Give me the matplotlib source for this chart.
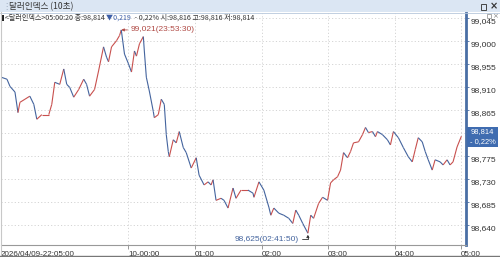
import matplotlib
matplotlib.use("Agg")
import matplotlib.pyplot as plt
import numpy as np
from matplotlib.collections import LineCollection
from matplotlib.patches import Rectangle

# ---- data (minutes since 2026/04/09 22:05:00, price) ----
minutes = [0, 5.4, 8.1, 12.6, 15.3, 17.1, 21.6, 26.0, 29.6, 32.3, 36.8, 43.1, 45.8, 48.5,
           53.0, 56.6, 59.3, 62.0, 65.6, 70.1, 74.6, 77.2, 79.9, 84.4, 88.0, 92.5, 95.2,
           97.0, 99.7, 104.2, 106.9, 108.5, 111.4, 115.0, 117.7, 120.4, 122.2, 124.9,
           128.4, 129.3, 131.1, 133.8, 137.4, 138.3, 141.9, 144.6, 147.3, 149.1, 150.9,
           151.8, 155.4, 158.1, 160.8, 164.4, 167.1, 171.6, 176.1, 178.7, 183.2, 186.8,
           189.5, 191.3, 194.0, 198.5, 201.2, 204.8, 209.3, 212.0, 216.5, 222.8, 227.3,
           228.2, 232.7, 237.1, 241.6, 243.4, 246.1, 250.6, 255.1, 259.6, 263.2, 265.9,
           268.6, 272.2, 276.83, 279.4, 282.0, 286.5, 290.1, 294.6, 297.3, 300.0, 303.6,
           306.3, 309.0, 312.6, 315.3, 318.0, 322.5, 326.1, 328.8, 331.5, 335.1, 337.8,
           339.6, 344.1, 348.6, 351.3, 354.0, 358.5, 362.9, 367.4, 371.0, 373.7, 376.4,
           380.0, 382.7, 385.4, 389.0, 391.6, 396.1, 398.8, 402.4, 405.1, 407.8, 411.4,
           415.33]
prices = [98.929, 98.925, 98.911, 98.900, 98.860, 98.880, 98.886, 98.892, 98.876, 98.847,
          98.856, 98.856, 98.876, 98.919, 98.915, 98.945, 98.915, 98.909, 98.890, 98.905,
          98.925, 98.915, 98.892, 98.905, 98.941, 98.988, 98.968, 98.959, 98.988, 99.000,
          99.010, 99.021, 98.974, 98.955, 98.939, 98.980, 98.970, 98.994, 99.008, 98.980,
          98.929, 98.902, 98.862, 98.850, 98.856, 98.886, 98.876, 98.817, 98.784, 98.774,
          98.807, 98.801, 98.823, 98.792, 98.782, 98.752, 98.772, 98.738, 98.719, 98.725,
          98.719, 98.729, 98.689, 98.693, 98.689, 98.674, 98.713, 98.693, 98.709, 98.709,
          98.703, 98.695, 98.725, 98.709, 98.676, 98.660, 98.674, 98.664, 98.660, 98.654,
          98.644, 98.670, 98.660, 98.644, 98.625, 98.660, 98.654, 98.683, 98.695, 98.689,
          98.723, 98.729, 98.735, 98.748, 98.782, 98.772, 98.784, 98.801, 98.803, 98.817,
          98.831, 98.821, 98.823, 98.813, 98.823, 98.817, 98.807, 98.797, 98.823, 98.811,
          98.792, 98.774, 98.764, 98.788, 98.811, 98.803, 98.784, 98.768, 98.748, 98.768,
          98.764, 98.758, 98.768, 98.758, 98.764, 98.793, 98.814]

x_tick_pos = [0, 115, 175, 235, 295, 355, 415]
x_tick_labels = ["2026/04/09-22:05:00", "10-00:00", "01:00", "02:00", "03:00", "04:00", "05:00"]
y_ticks = [99.045, 99.000, 98.955, 98.910, 98.865, 98.820, 98.775, 98.730, 98.685, 98.640]
y_tick_labels = ["99,045", "99,000", "98,955", "98,910", "98,865", "98,820", "98,775",
                 "98,730", "98,685", "98,640"]

peak_label = "99,021(23:53:30)"
low_label = "98,625(02:41:50)"
info_prefix = "<달러인덱스>05:00:20 종:98,814 "
info_change = "▼0,219 "
info_rest = " - 0,22% 시:98,816 고:98,816 저:98,814"
title = "달러인덱스 (10초)"
last_price = "98,814"
last_pct = "- 0,22%"

W, H = 500, 257
fig = plt.figure(figsize=(W / 100, H / 100), dpi=100)
fig.patch.set_facecolor("white")

NUM_FONT = ["Liberation Sans Narrow", "Liberation Sans", "DejaVu Sans"]
KR_FONT = ["Noto Sans CJK KR", "DejaVu Sans"]

def fx(x):
    return x / W

def fy(y):
    return 1 - y / H

# axes: left 1px, right 466px, top 13px, bottom 245px
ax = fig.add_axes([fx(1), fy(245), fx(466) - fx(1), fy(13) - fy(245)])
ax.set_facecolor("white")

t = np.array(minutes)
p = np.array(prices)
segs = np.stack([np.column_stack([t[:-1], p[:-1]]), np.column_stack([t[1:], p[1:]])], axis=1)
cols = np.where(np.diff(p) >= 0, "#c8504e", "#44649e")
lc = LineCollection(segs, colors=cols, linewidths=0.8, zorder=3)
ax.add_collection(lc)

ax.set_xlim(1.8, 1.8 + 465 / 1.1133)
ax.set_ylim(98.602, 99.054)

# grid
for v in y_ticks:
    ax.axhline(v, color="#d4d4d4", lw=0.7, ls=(0, (1.2, 2.2)), zorder=1)
for xt in x_tick_pos[1:]:
    ax.axvline(xt, color="#d4d4d4", lw=0.7, ls=(0, (1.2, 2.2)), zorder=1)

ax.set_xticks(x_tick_pos)
ax.set_xticklabels(x_tick_labels, ha="left", fontsize=5.8, family=NUM_FONT, color="#333333")
ax.tick_params(axis="x", length=3, width=0.6, color="#888888", pad=1.5)

ax.yaxis.tick_right()
ax.set_yticks(y_ticks)
ylabels = ax.set_yticklabels(y_tick_labels, fontsize=6.0, family=NUM_FONT, color="#333333",
                             va="top")
# the label under the last-price box is covered in the original
for v, lab in zip(y_ticks, ylabels):
    if abs(v - prices[-1]) < 0.02:
        lab.set_visible(False)
ax.tick_params(axis="y", length=2, width=0.6, color="#4a6fa5", pad=1.5)

for s in ["top", "left"]:
    ax.spines[s].set_visible(False)
ax.spines["right"].set_color("#4a6fa5")
ax.spines["right"].set_linewidth(2)
ax.spines["bottom"].set_color("#999999")
ax.spines["bottom"].set_linewidth(0.8)

# annotations
ipk = int(np.argmax(p))
ax.annotate(peak_label, xy=(t[ipk], p[ipk]), xytext=(9, 0), textcoords="offset pixels",
            ha="left", va="center", fontsize=6.0, family=NUM_FONT, color="#b04a45",
            arrowprops=dict(arrowstyle="-|>", color="#b04a45", lw=0.6, mutation_scale=4,
                            shrinkA=0, shrinkB=0, relpos=(0, 0.5)), zorder=5)
imn = int(np.argmin(p))
ax.annotate(low_label, xy=(t[imn], p[imn]), xytext=(-9, -6), textcoords="offset pixels",
            ha="right", va="center", fontsize=6.0, family=NUM_FONT, color="#44649e",
            arrowprops=dict(arrowstyle="-|>", color="#333333", lw=0.6, mutation_scale=4,
                            shrinkA=0, shrinkB=1, relpos=(1, 0.5),
                            connectionstyle="angle,angleA=0,angleB=90,rad=0"), zorder=5)

# title bar
fig.patches.append(Rectangle((0, fy(12)), 1, 12 / H, transform=fig.transFigure,
                             facecolor="#dbe6f3", edgecolor="none", zorder=0))
fig.lines.append(plt.Line2D([0, 1], [fy(12.5), fy(12.5)], transform=fig.transFigure,
                            color="#b7c8dc", lw=0.6))
fig.text(fx(2), fy(6.5), "⋮", fontsize=6, color="#9aa9bb", ha="left", va="center")
fig.text(fx(9), fy(6.5), title, fontsize=6.2, family=KR_FONT, color="#333333",
         ha="left", va="center")
fig.text(fx(494), fy(6.5), "×", fontsize=7, color="#333333", ha="center", va="center",
         fontweight="bold")
fig.patches.append(Rectangle((fx(481), fy(9.5)), 5 / W, 5 / H, transform=fig.transFigure,
                             facecolor="none", edgecolor="#444444", lw=0.7))

# info line
INFO_FS = 5.1
fig.patches.append(Rectangle((fx(2), fy(21)), 1.5 / W, 6 / H, transform=fig.transFigure,
                             facecolor="#222222", edgecolor="none"))
tx = fig.text(fx(5), fy(18), info_prefix, fontsize=INFO_FS, family=KR_FONT, color="#333333",
              ha="left", va="center")
tx2 = ax.annotate(info_change, xy=(1, 0.5), xycoords=tx, ha="left", va="center",
                  fontsize=INFO_FS, family=KR_FONT, color="#3d5fa8", annotation_clip=False)
ax.annotate(info_rest, xy=(1, 0.5), xycoords=tx2, ha="left", va="center",
            fontsize=INFO_FS, family=KR_FONT, color="#333333", annotation_clip=False)

# small icons near top of axis
fig.patches.append(Rectangle((fx(487), fy(18)), 4 / W, 4 / H, transform=fig.transFigure,
                             facecolor="none", edgecolor="#888888", lw=0.5))
fig.text(fx(495), fy(16), "×", fontsize=5, color="#888888", ha="center", va="center")

# last price box
fig.patches.append(Rectangle((fx(467), fy(147)), 31 / W, 20 / H, transform=fig.transFigure,
                             facecolor="#3f6cb0", edgecolor="none", zorder=5))
fig.text(fx(482.5), fy(132), last_price, fontsize=5.4, family=NUM_FONT, color="white",
         ha="center", va="center", zorder=6)
fig.text(fx(482.5), fy(141.5), last_pct, fontsize=5.4, family=NUM_FONT, color="white",
         ha="center", va="center", zorder=6)

# frame borders
fig.lines.append(plt.Line2D([fx(0.5), fx(0.5)], [0, fy(12)], transform=fig.transFigure,
                            color="#c8c8c8", lw=0.8))
fig.lines.append(plt.Line2D([0, 1], [fy(256), fy(256)], transform=fig.transFigure,
                            color="#777777", lw=1.0))

fig.savefig("out.png", dpi=100, facecolor="white")
